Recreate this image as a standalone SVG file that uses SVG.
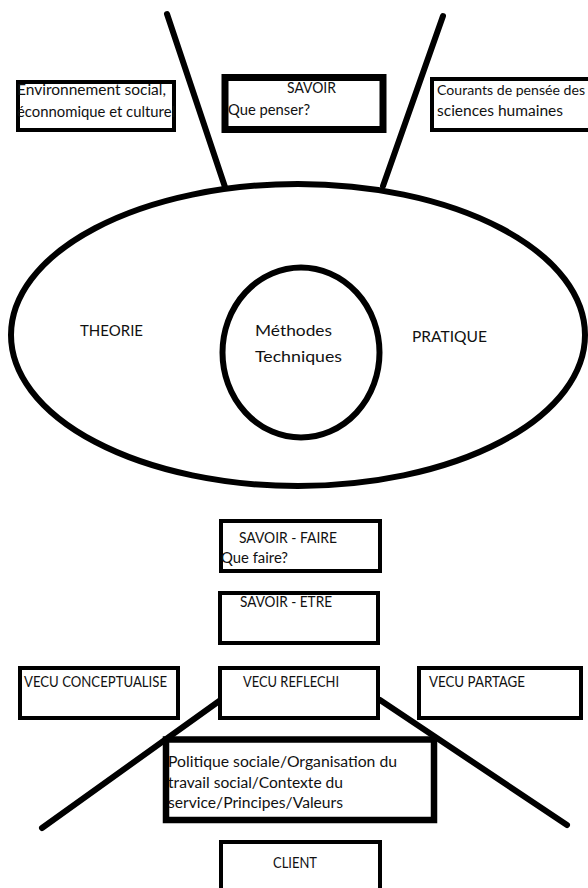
<svg xmlns="http://www.w3.org/2000/svg" width="588" height="888" viewBox="0 0 588 888">
<style>
text{font-family:Lato,"Open Sans","Liberation Sans",sans-serif;font-size:15.5px;fill:#111}
.b{fill:#fff;stroke:#000;stroke-width:4}
.ln{stroke:#000;stroke-width:6;stroke-linecap:round;fill:none}
.sh{fill:none;stroke:#000;stroke-width:6}
</style>
<rect width="588" height="888" fill="#fff"/>
<g id="connectors">
<line class="ln" x1="167" y1="14" x2="225" y2="187"/>
<line class="ln" x1="443" y1="16" x2="383" y2="186"/>
<line class="ln" x1="222" y1="699" x2="42" y2="828"/>
<line class="ln" x1="380" y1="700" x2="567" y2="825"/>
</g>
<g id="ellipse">
<ellipse class="sh" cx="298" cy="335" rx="287" ry="151"/>
<text x="80" y="336" textLength="63" lengthAdjust="spacingAndGlyphs">THEORIE</text>
<text x="412" y="342" textLength="75" lengthAdjust="spacingAndGlyphs">PRATIQUE</text>
</g>
<g id="methodes">
<ellipse class="sh" cx="301" cy="352.5" rx="78.5" ry="85"/>
<text x="255" y="336" textLength="77" lengthAdjust="spacingAndGlyphs">Méthodes</text>
<text x="255" y="362" textLength="87" lengthAdjust="spacingAndGlyphs">Techniques</text>
</g>
<g id="environnement">
<rect class="b" x="18" y="82" width="156" height="48"/>
<text x="17" y="95" textLength="149" lengthAdjust="spacingAndGlyphs">Environnement social,</text>
<text x="17" y="117" textLength="158" lengthAdjust="spacingAndGlyphs">éconnomique et culturel</text>
</g>
<g id="savoir">
<rect x="225" y="77.5" width="158" height="52" fill="#fff" stroke="#000" stroke-width="7"/>
<text x="287" y="93" textLength="49" lengthAdjust="spacingAndGlyphs">SAVOIR</text>
<text x="228" y="115" textLength="82" lengthAdjust="spacingAndGlyphs">Que penser?</text>
</g>
<g id="courants">
<rect class="b" x="432" y="79" width="170" height="51"/>
<text x="437" y="95" font-size="14" textLength="148" lengthAdjust="spacingAndGlyphs" style="font-size:14px">Courants de pensée des</text>
<text x="437" y="116" textLength="126" lengthAdjust="spacingAndGlyphs">sciences humaines</text>
</g>
<g id="savoir-faire">
<rect class="b" x="221" y="521" width="159" height="50"/>
<text x="239" y="543" textLength="98" lengthAdjust="spacingAndGlyphs">SAVOIR - FAIRE</text>
<text x="221" y="563" textLength="67" lengthAdjust="spacingAndGlyphs">Que faire?</text>
</g>
<g id="savoir-etre">
<rect class="b" x="220" y="593" width="158" height="50"/>
<text x="240" y="607" textLength="92" lengthAdjust="spacingAndGlyphs">SAVOIR - ETRE</text>
</g>
<g id="vecu-conceptualise">
<rect class="b" x="20" y="668" width="158" height="50"/>
<text x="24" y="687" textLength="143" lengthAdjust="spacingAndGlyphs">VECU CONCEPTUALISE</text>
</g>
<g id="vecu-reflechi">
<rect class="b" x="220" y="668" width="158" height="50"/>
<text x="243" y="687" textLength="96" lengthAdjust="spacingAndGlyphs">VECU REFLECHI</text>
</g>
<g id="vecu-partage">
<rect class="b" x="419" y="668" width="162" height="50"/>
<text x="429" y="687" textLength="96" lengthAdjust="spacingAndGlyphs">VECU PARTAGE</text>
</g>
<g id="politique">
<rect x="166" y="739.5" width="268" height="80.5" fill="#fff" stroke="#000" stroke-width="6.5"/>
<text x="168" y="767" textLength="229" lengthAdjust="spacingAndGlyphs">Politique sociale/Organisation du</text>
<text x="168" y="788" textLength="175" lengthAdjust="spacingAndGlyphs">travail social/Contexte du</text>
<text x="168" y="808" textLength="175" lengthAdjust="spacingAndGlyphs">service/Principes/Valeurs</text>
</g>
<g id="client">
<rect class="b" x="221" y="842" width="159" height="60"/>
<text x="273" y="868" textLength="44" lengthAdjust="spacingAndGlyphs">CLIENT</text>
</g>
</svg>
